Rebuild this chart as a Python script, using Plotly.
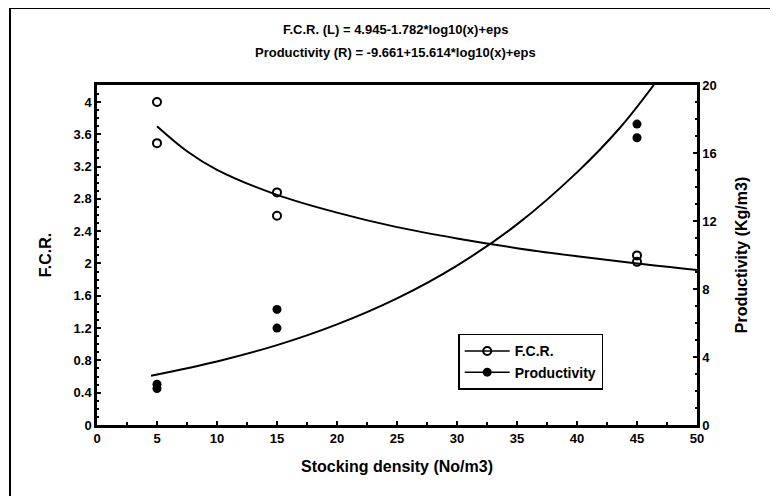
import plotly.graph_objects as go

# Observed data
density = [5, 5, 15, 15, 45, 45]
fcr_obs = [4.0, 3.49, 2.88, 2.59, 2.10, 2.02]
prod_obs = [2.4, 2.15, 6.8, 5.7, 17.7, 16.9]

# Fitted curves
fcr_fit_x = [5, 7.5, 10, 15, 20, 25, 30, 35, 40, 45, 50]
fcr_fit_y = [3.70, 3.39, 3.16, 2.85, 2.63, 2.45, 2.31, 2.19, 2.09, 2.00, 1.92]
prod_fit_x = [4.5, 10, 15, 20, 25, 30, 35, 40, 43.6, 46.4]
prod_fit_y = [2.9, 3.74, 4.7, 5.92, 7.45, 9.38, 11.8, 14.86, 17.5, 20.0]

x_ticks = [0, 5, 10, 15, 20, 25, 30, 35, 40, 45, 50]
left_ticks = [0, 0.4, 0.8, 1.2, 1.6, 2, 2.4, 2.8, 3.2, 3.6, 4]
right_ticks = [0, 4, 8, 12, 16, 20]

title1 = "F.C.R. (L) = 4.945-1.782*log10(x)+eps"
title2 = "Productivity (R) = -9.661+15.614*log10(x)+eps"

FONT = "Liberation Sans, Arial, sans-serif"
BOLD = dict(family=FONT, color="black", weight="bold")

# page body has an 8px margin: figure is 8px smaller and positions are offset
OFF = 8
W, H = 778 - OFF, 496 - OFF
L, T = 97 - OFF, 85 - OFF
PW, PH = 600, 340

fig = go.Figure()
fig.add_trace(go.Scatter(x=fcr_fit_x, y=fcr_fit_y, mode="lines", line=dict(color="black", width=2, shape="spline"),
                         showlegend=False, hoverinfo="skip"))
fig.add_trace(go.Scatter(x=prod_fit_x, y=prod_fit_y, mode="lines", yaxis="y2",
                         line=dict(color="black", width=2, shape="spline"), showlegend=False, hoverinfo="skip"))
fig.add_trace(go.Scatter(x=density, y=fcr_obs, mode="markers", name="F.C.R.", showlegend=False,
                         marker=dict(symbol="circle-open", size=8, color="black", line=dict(width=2))))
fig.add_trace(go.Scatter(x=density, y=prod_obs, mode="markers", name="Productivity", yaxis="y2", showlegend=False,
                         marker=dict(symbol="circle", size=9, color="black")))
# legend entries
fig.add_trace(go.Scatter(x=[None], y=[None], mode="lines+markers", name="F.C.R.",
                         line=dict(color="black", width=1.5),
                         marker=dict(symbol="circle-open", size=8, color="black", line=dict(width=2))))
fig.add_trace(go.Scatter(x=[None], y=[None], mode="lines+markers", name="Productivity",
                         line=dict(color="black", width=1.5),
                         marker=dict(symbol="circle", size=9, color="black")))

axis_common = dict(showgrid=False, zeroline=False, showline=True, linecolor="black", linewidth=2.5,
                   ticks="inside", ticklen=4, tickwidth=2, tickcolor="black",
                   tickfont=dict(size=13, **BOLD))


def btext(vals):
    return [f"<b>{v:g}</b>" for v in vals]


fig.update_layout(
    width=W, height=H,
    margin=dict(l=L, r=W - L - PW, t=T, b=H - T - PH),
    paper_bgcolor="white", plot_bgcolor="white",
    font=dict(family=FONT, color="black"),
    xaxis=dict(range=[0, 50], tickvals=x_ticks, ticktext=btext(x_ticks), mirror=True,
               minor=dict(dtick=2.5, ticks="inside", ticklen=3, tickwidth=1.5, tickcolor="black"),
               title=dict(text="Stocking density (No/m3)", font=dict(size=16, **BOLD), standoff=16),
               **axis_common),
    yaxis=dict(range=[0, 4.21], tickvals=left_ticks, ticktext=btext(left_ticks),
               minor=dict(dtick=0.1, ticks="inside", ticklen=2, tickwidth=1.5, tickcolor="black"),
               title=dict(text="F.C.R.", font=dict(size=16, **BOLD), standoff=18),
               **axis_common),
    yaxis2=dict(range=[0, 20], overlaying="y", side="right", tickvals=right_ticks, ticktext=btext(right_ticks),
                minor=dict(dtick=1, ticks="inside", ticklen=2, tickwidth=1.5, tickcolor="black"),
                title=dict(text="Productivity (Kg/m3)", font=dict(size=16, **BOLD), standoff=20),
                **axis_common),
    legend=dict(x=0.602, y=0.268, xanchor="left", yanchor="top", bordercolor="black", borderwidth=1.5,
                bgcolor="white", font=dict(size=14, **BOLD), tracegroupgap=0, itemwidth=45),
    showlegend=True,
)

fig.add_annotation(text=title1, xref="paper", yref="paper", x=0.497, y=(425 - 30) / PH,
                   showarrow=False, font=dict(size=13, **BOLD), yanchor="middle")
fig.add_annotation(text=title2, xref="paper", yref="paper", x=0.497, y=(425 - 53) / PH,
                   showarrow=False, font=dict(size=13, **BOLD), yanchor="middle")

# outer frame
fig.add_shape(type="rect", xref="paper", yref="paper",
              x0=(10 - 97) / PW, x1=(772 - 97) / PW, y0=(425 - 510) / PH, y1=(425 - 8) / PH,
              line=dict(color="black", width=2), layer="below")

fig.write_html("out.html")
